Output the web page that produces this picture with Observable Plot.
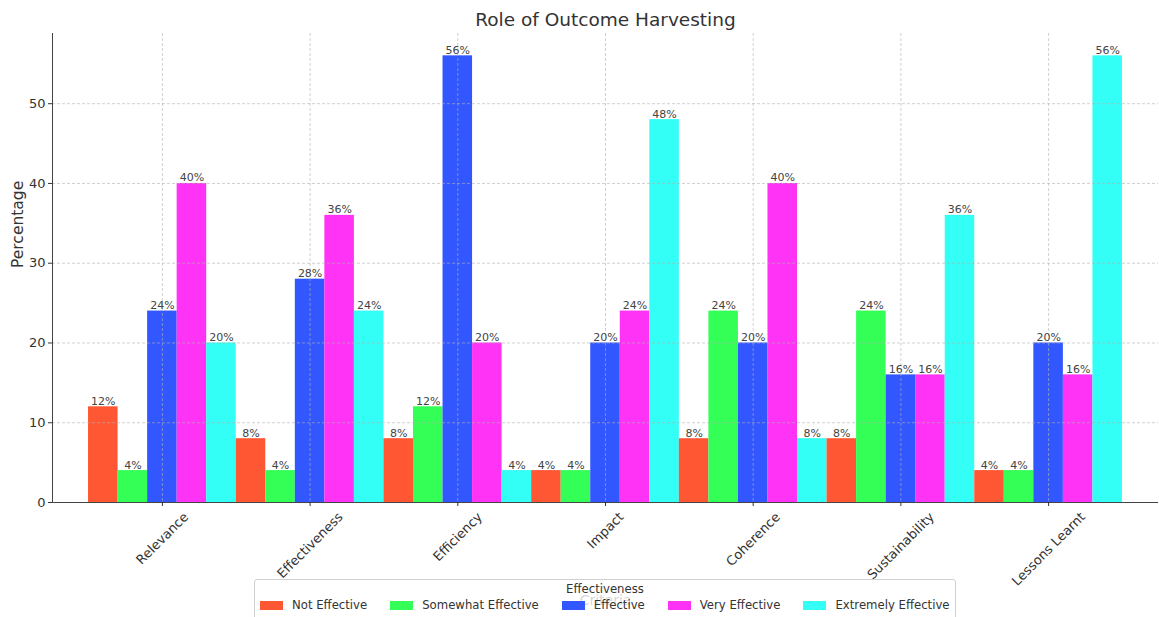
<!DOCTYPE html>
<html>
<head>
<meta charset="utf-8">
<script src="https://cdn.jsdelivr.net/npm/d3@7"></script>
<script src="https://cdn.jsdelivr.net/npm/@observablehq/plot@0.6"></script>
<style>
  html, body { margin: 0; padding: 0; background: white; overflow: hidden; }
  #wrap { position: relative; width: 1159px; height: 617px; font-family: "DejaVu Sans", sans-serif; }
  #legend { position: absolute; left: 254px; top: 579px; width: 702px; height: 46px; box-sizing: border-box;
    border: 1px solid #d0d0d0; border-radius: 3px; background: rgba(255,255,255,0.8); color: #333; font-size: 11.7px; }
  #legend .ttl { text-align: center; margin-top: 2px; line-height: 14px; }
  #legend .row { display: flex; gap: 23px; padding-left: 5px; margin-top: 2px; align-items: center; }
  #legend .item { display: flex; align-items: center; white-space: nowrap; }
  #legend .sw { width: 23px; height: 9px; margin-right: 9px; }
</style>
</head>
<body>
<div id="wrap"></div>
<script>
const categories = ["Relevance", "Effectiveness", "Efficiency", "Impact", "Coherence", "Sustainability", "Lessons Learnt"];
const levels = ["Not Effective", "Somewhat Effective", "Effective", "Very Effective", "Extremely Effective"];
const notEffective       = [12, 8, 8, 4, 8, 8, 4];
const somewhatEffective  = [4, 4, 12, 4, 24, 24, 4];
const effective          = [24, 28, 56, 20, 20, 16, 20];
const veryEffective      = [40, 36, 20, 24, 40, 16, 16];
const extremelyEffective = [20, 24, 4, 48, 8, 36, 56];
const colors = ["#FF5733", "#33FF57", "#3357FF", "#FF33F6", "#33FFF6"];
const yTicks = [0, 10, 20, 30, 40, 50];
const title = "Role of Outcome Harvesting";
const yLabel = "Percentage";
const xLabel = "Criteria";
const legendTitle = "Effectiveness";

const series = [notEffective, somewhatEffective, effective, veryEffective, extremelyEffective];
const rows = categories.flatMap((c, i) => levels.map((l, j) => ({category: c, level: l, key: c + "|" + l, value: series[j][i]})));
const keys = rows.map(d => d.key);
const centerKey = c => c + "|" + levels[2];

const ctx = document.createElement("canvas").getContext("2d");
ctx.font = "13px 'DejaVu Sans'";
const labelMarks = categories.map(c => {
  const L = ctx.measureText(c).width;
  return Plot.text([c], {x: centerKey, text: d => d, frameAnchor: "bottom", rotate: -45,
    textAnchor: "middle", lineAnchor: "middle", fontSize: 13, dy: 7 + (L + 15) * 0.3536});
});

const chart = Plot.plot({
  width: 1159, height: 617,
  marginTop: 33, marginBottom: 115, marginLeft: 52, marginRight: 1,
  style: {fontFamily: "'DejaVu Sans', sans-serif", fontSize: "13px", color: "#333", background: "white", overflow: "visible"},
  x: {type: "band", domain: keys, paddingInner: 0, paddingOuter: 1.22, round: false, axis: null},
  y: {domain: [0, 58.8], axis: null},
  color: {domain: levels, range: colors},
  marks: [
    Plot.barY(rows, {x: "key", y: "value", fill: "level"}),
    Plot.gridY(yTicks.slice(1), {stroke: "#b0b0b0", strokeOpacity: 0.6, strokeDasharray: "3,2"}),
    Plot.ruleX(categories, {x: centerKey, stroke: "#b0b0b0", strokeOpacity: 0.6, strokeDasharray: "3,2"}),
    Plot.text(rows, {x: "key", y: "value", text: d => d.value + "%", lineAnchor: "bottom", dy: -2, fontSize: 11, fill: "#444"}),
    Plot.ruleY([0], {stroke: "#444"}),
    Plot.frame({anchor: "left", stroke: "#444"}),
    Plot.axisY(yTicks, {tickSize: 4, tickPadding: 3, fontSize: 13, label: null}),
    Plot.axisX(categories.map(centerKey), {tickSize: 4, tickFormat: () => "", label: null}),
    ...labelMarks,
    Plot.text([title], {frameAnchor: "top", dy: -13, fontSize: 18.5, lineAnchor: "middle"}),
    Plot.text([yLabel], {frameAnchor: "left", dx: -34, rotate: -90, fontSize: 15.5, lineAnchor: "middle"}),
    Plot.text([xLabel], {frameAnchor: "bottom", dy: 98, fontSize: 14, lineAnchor: "middle"})
  ]
});
const wrap = document.getElementById("wrap");
wrap.appendChild(chart);

const legend = document.createElement("div");
legend.id = "legend";
legend.innerHTML = `<div class="ttl">${legendTitle}</div><div class="row">` +
  levels.map((l, i) => `<div class="item"><span class="sw" style="background:${colors[i]}"></span><span>${l}</span></div>`).join("") +
  `</div>`;
wrap.appendChild(legend);
</script>
</body>
</html>
